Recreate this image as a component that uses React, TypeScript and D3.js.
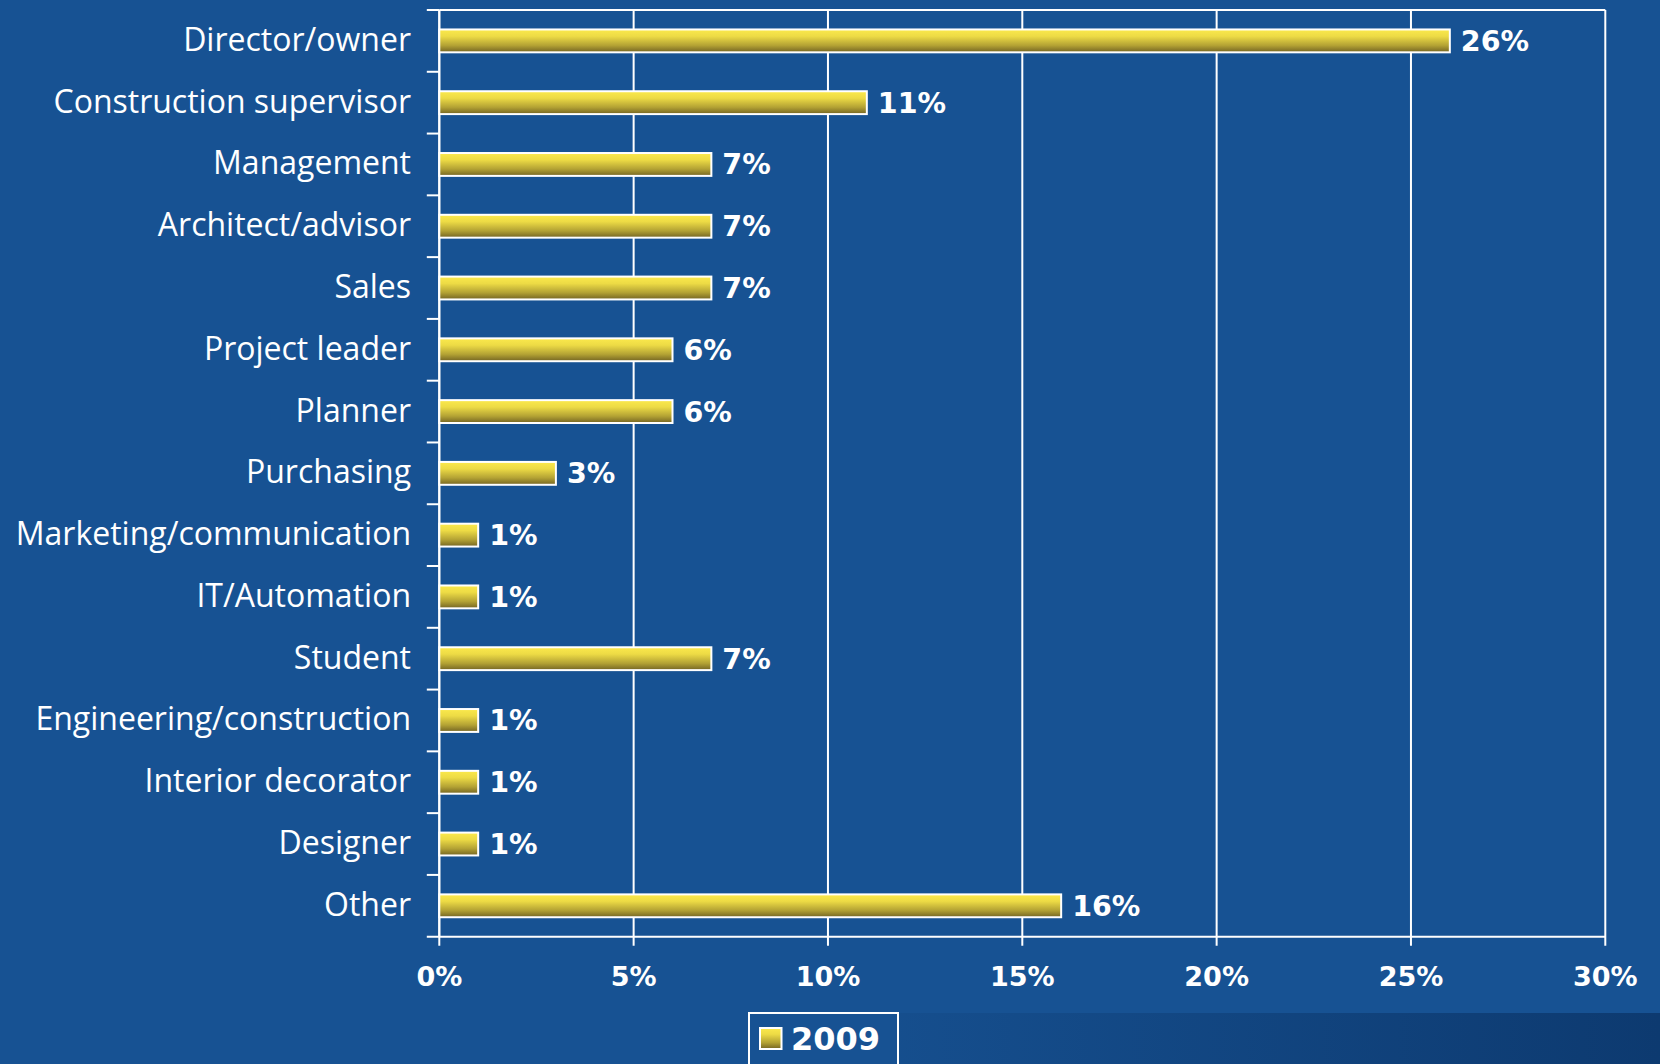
import React from "react";
import * as d3 from "d3";

const categories = [
  "Director/owner",
  "Construction supervisor",
  "Management",
  "Architect/advisor",
  "Sales",
  "Project leader",
  "Planner",
  "Purchasing",
  "Marketing/communication",
  "IT/Automation",
  "Student",
  "Engineering/construction",
  "Interior decorator",
  "Designer",
  "Other",
];
const values2009 = [26, 11, 7, 7, 7, 6, 6, 3, 1, 1, 7, 1, 1, 1, 16];
const xTicks = [0, 5, 10, 15, 20, 25, 30];
const seriesName = "2009";

const W = 1660;
const H = 1064;
const BG = "#175293";

export default function App() {
  const x = d3.scaleLinear().domain([0, 30]).range([439.3, 1605.3]);
  const y = d3
    .scaleBand<string>()
    .domain(categories)
    .range([10, 936.7])
    .paddingInner(0.63)
    .paddingOuter(0.315);
  const [top, bottom] = y.range();
  const x0 = x(0);
  const x1 = x(30);
  const step = y.step();
  const labelFont = "'Open Sans', 'Noto Sans', sans-serif";
  const boldFont = "'DejaVu Sans', Verdana, sans-serif";

  return (
    <svg
      width={W}
      height={H}
      style={{ position: "absolute", left: 0, top: 0, display: "block" }}
    >
      <defs>
        <linearGradient id="barGrad" x1="0" y1="0" x2="0" y2="1">
          <stop offset="0" stopColor="#fbe94c" />
          <stop offset="0.3" stopColor="#eddb45" />
          <stop offset="0.7" stopColor="#b3a234" />
          <stop offset="1" stopColor="#736423" />
        </linearGradient>
        <linearGradient id="bandGrad" x1="0" y1="0" x2="1" y2="0">
          <stop offset="0" stopColor={BG} />
          <stop offset="1" stopColor="#0d3a70" />
        </linearGradient>
      </defs>
      <rect x={0} y={0} width={W} height={H} fill={BG} />
      <rect x={750} y={1013} width={W - 750} height={H - 1013} fill="url(#bandGrad)" />

      {/* grid lines */}
      {xTicks.map((t) => (
        <line
          key={"g" + t}
          x1={x(t)}
          x2={x(t)}
          y1={top}
          y2={bottom + (t === 0 ? 0 : 9)}
          stroke="#fff"
          strokeWidth={2}
        />
      ))}
      <line x1={x0} x2={x1} y1={top} y2={top} stroke="#fff" strokeWidth={2} />
      <line x1={x0 - 12.5} x2={x1} y1={bottom} y2={bottom} stroke="#fff" strokeWidth={2} />
      <line x1={x0} x2={x0} y1={top} y2={bottom + 9} stroke="#fff" strokeWidth={2} />
      {/* category ticks */}
      {categories.map((c, i) => (
        <line
          key={"t" + c}
          x1={x0 - 12.5}
          x2={x0}
          y1={top + i * step}
          y2={top + i * step}
          stroke="#fff"
          strokeWidth={2}
        />
      ))}

      {/* bars */}
      {categories.map((c, i) => {
        const yy = y(c)!;
        const v = values2009[i];
        const cy = yy + y.bandwidth() / 2;
        return (
          <g key={"b" + c}>
            <rect
              x={x0}
              y={yy}
              width={x(v) - x0}
              height={y.bandwidth()}
              fill="url(#barGrad)"
              stroke="#fff"
              strokeWidth={2}
            />
            <text
              x={x(v) + 11}
              y={cy + 10}
              fill="#fff"
              fontFamily={boldFont}
              fontWeight="bold"
              fontSize={28.5}
            >
              {v + "%"}
            </text>
            <text
              x={411}
              y={cy + 10}
              fill="#fff"
              fontFamily={labelFont}
              fontSize={32}
              textAnchor="end"
            >
              {c}
            </text>
          </g>
        );
      })}

      {/* x axis labels */}
      {xTicks.map((t) => (
        <text
          key={"xl" + t}
          x={x(t)}
          y={986}
          fill="#fff"
          fontFamily={boldFont}
          fontWeight="bold"
          fontSize={27}
          textAnchor="middle"
        >
          {t + "%"}
        </text>
      ))}

      {/* legend */}
      <rect x={749} y={1013} width={149} height={70} fill={BG} stroke="#fff" strokeWidth={2} />
      <rect x={760} y={1028} width={21.5} height={21} fill="url(#barGrad)" stroke="#fff" strokeWidth={2} />
      <text
        x={791}
        y={1050}
        fill="#fff"
        fontFamily={boldFont}
        fontWeight="bold"
        fontSize={32}
      >
        {seriesName}
      </text>
    </svg>
  );
}
